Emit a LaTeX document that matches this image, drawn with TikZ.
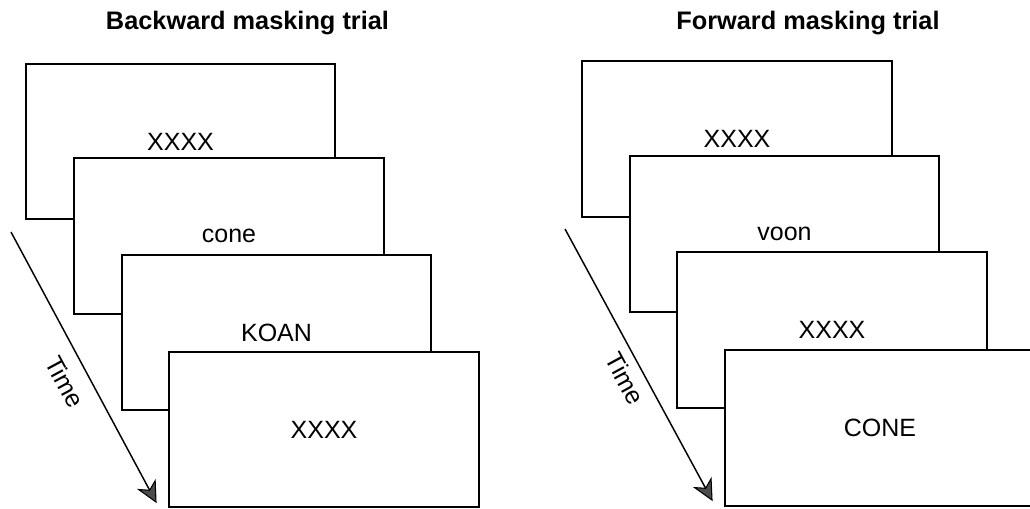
\documentclass[tikz,border=0pt]{standalone}
\usepackage{fontspec}
\setmainfont{Liberation Sans}
\usetikzlibrary{calc}
\begin{document}
\begin{tikzpicture}[x=0.75pt,y=-0.75pt,
  screen/.style={draw=black,line width=1.5pt,fill=white,minimum width=232pt,minimum height=116.5pt,inner sep=0pt,font=\fontsize{18.75pt}{22pt}\selectfont},
  trialtitle/.style={font=\bfseries\fontsize{19pt}{22pt}\selectfont,inner sep=0pt},
  timeshaft/.style={line width=1.1pt},
  timehead/.style={fill=black!70,draw=black,line width=0.8pt,line join=miter},
  timelabel/.style={font=\fontsize{18.75pt}{22pt}\selectfont,inner sep=0pt,sloped,anchor=center}]
\useasboundingbox (0,0) rectangle (1030,508);
% titles
\node[trialtitle] (tb) at (247.5,23) {Backward masking trial};
\node[trialtitle] (tf) at (808,23) {Forward masking trial};
% time arrows
\coordinate (ls) at (11,232);
\coordinate (le) at (156,502);
\coordinate (rs) at (565,229);
\coordinate (re) at (712,500);
\draw[timeshaft] (ls) -- ($(le)!9pt!(ls)$) node[timelabel,pos=0.535,yshift=-17.6pt] (lt) {Time};
\filldraw[timehead] (le) -- ($(le)!16pt!26:(ls)$) -- ($(le)!10pt!(ls)$) -- ($(le)!16pt!-26:(ls)$) -- cycle;
\draw[timeshaft] (rs) -- ($(re)!9pt!(rs)$) node[timelabel,pos=0.54,yshift=-13.7pt] (rt) {Time};
\filldraw[timehead] (re) -- ($(re)!16pt!26:(rs)$) -- ($(re)!10pt!(rs)$) -- ($(re)!16pt!-26:(rs)$) -- cycle;
\begin{scope}
\clip (0,0) rectangle (1030,508);
% backward masking screens
\node[screen] (b1) at (180.5,141.5) {XXXX};
\node[screen] (b2) at (229,236) {cone};
\node[screen] (b3) at (276.5,332.5) {KOAN};
\node[screen] (b4) at (324,429.5) {XXXX};
% forward masking screens
\node[screen] (f1) at (737,139) {XXXX};
\node[screen] (f2) at (784.5,234) {voon};
\node[screen] (f3) at (832,330) {XXXX};
\node[screen] (f4) at (880,428) {CONE};
\end{scope}
\end{tikzpicture}
\end{document}
